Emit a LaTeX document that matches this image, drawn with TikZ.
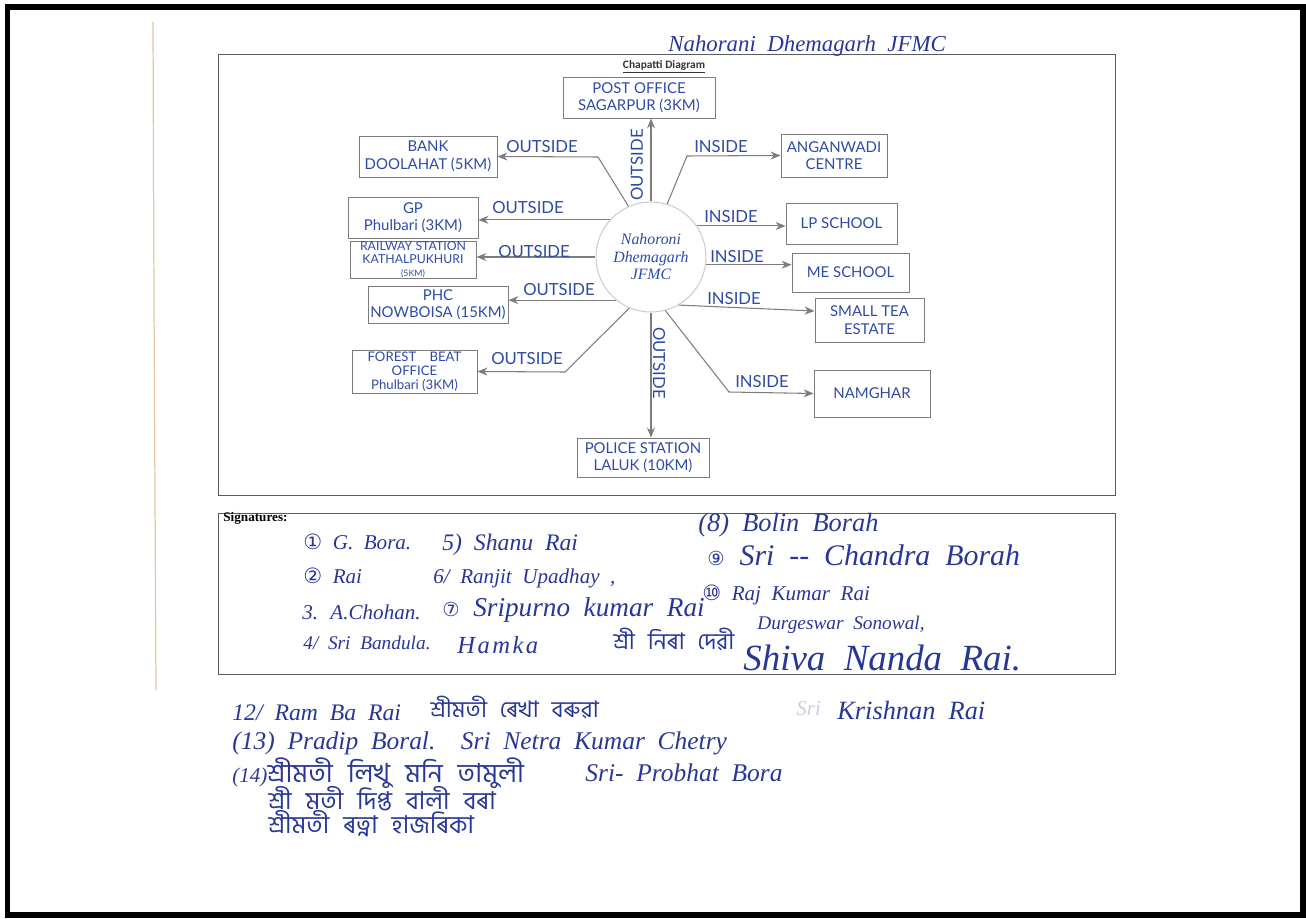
\documentclass[tikz,border=0pt]{standalone}
\usepackage{fontspec}
\setmainfont{Liberation Serif}
\newfontfamily\printfont{Lato}
\newfontfamily\handfont[WordSpace=2]{Liberation Serif}
\newfontfamily\widehand[LetterSpace=10]{Liberation Serif}
\newfontfamily\bnfont[Script=Bengali,WordSpace=2.5]{Hind Siliguri}
\newfontfamily\symfont{DejaVu Sans}
\newfontfamily\calfont{Carlito}
\usetikzlibrary{arrows.meta}

\definecolor{inkP}{RGB}{45,75,165}
\definecolor{inkS}{RGB}{40,55,150}
\definecolor{lineG}{RGB}{125,125,125}
\definecolor{boxG}{RGB}{125,125,125}
\definecolor{frameG}{RGB}{90,90,90}
\definecolor{hubG}{RGB}{205,205,205}
\definecolor{scan}{RGB}{226,200,160}

% handwriting sizes
\newcommand\handsz[1]{\handfont\itshape\fontsize{#1}{#1}\selectfont}
\newcommand\bnsz[1]{\bnfont\fontsize{#1}{#1}\selectfont}

\tikzset{
  place/.style={draw=boxG, line width=0.5pt, inner sep=0pt, align=center, text=inkP,
    font=\printfont\fontsize{8.5}{10}\selectfont},
  side/.style={text=inkP, inner sep=0pt, font=\printfont\fontsize{9.5}{9.5}\selectfont},
  link/.style={draw=lineG, line width=0.6pt, -{Stealth[length=0.2cm,width=0.16cm]}},
  sign/.style={anchor=west, inner sep=0pt, text=inkS, font=\handsz{12}},
  bsign/.style={anchor=west, inner sep=0pt, text=inkS, font=\bnsz{14}},
}

\begin{document}
\begin{tikzpicture}[x=0.02cm,y=-0.02cm]
\useasboundingbox (0,0) rectangle (1306,919);
\draw[line width=0.12cm] (7.5,7) rectangle (1303,915);
\draw[scan, line width=0.7pt] (153,22) -- (154,300) -- (156,690);

% frames
\draw[frameG, line width=0.5pt] (218,54) rectangle (1115,495);
\draw[frameG, line width=0.5pt] (218,513) rectangle (1115,674);

\node[anchor=west, inner sep=0pt, text=inkS, font=\handsz{13}] (title) at (668,46) {Nahorani Dhemagarh JFMC};
\node[inner sep=0pt, text=black!80, font=\calfont\bfseries\fontsize{6.5}{7}\selectfont] (caption) at (664,67) {\underline{Chapatti Diagram}};

% hub
\node[circle, draw=hubG, line width=0.6pt, minimum size=2.2cm, align=center, text=inkP,
  font=\handfont\itshape\fontsize{9}{10}\selectfont] (hub) at (651,257) {Nahoroni\\Dhemagarh\\JFMC};

% outside places
\node[place, minimum width=3.04cm, minimum height=0.82cm] (post) at (639,97.5) {POST OFFICE\\SAGARPUR (3KM)};
\node[place, minimum width=2.76cm, minimum height=0.82cm] (bank) at (428,156.5) {BANK\\DOOLAHAT (5KM)};
\node[place, minimum width=2.6cm, minimum height=0.82cm] (gp) at (413,217.5) {GP\\Phulbari (3KM)};
\node[place, minimum width=2.52cm, minimum height=0.72cm, font=\printfont\fontsize{7}{7.5}\selectfont] (rail) at (413,260)
  {RAILWAY STATION\\KATHALPUKHURI\\{\fontsize{5}{5}\selectfont(5KM)}};
\node[place, minimum width=2.8cm, minimum height=0.74cm] (phc) at (438,304.5) {PHC\\NOWBOISA (15KM)};
\node[place, minimum width=2.5cm, minimum height=0.86cm, font=\printfont\fontsize{7.5}{8}\selectfont] (forest) at (414.5,371.5)
  {FOREST\quad BEAT\\OFFICE\\Phulbari (3KM)};
\node[place, minimum width=2.64cm, minimum height=0.78cm] (police) at (643,457.5) {POLICE STATION\\LALUK (10KM)};

% inside places
\node[place, minimum width=2.12cm, minimum height=0.86cm] (angan) at (834,155.5) {ANGANWADI\\CENTRE};
\node[place, minimum width=2.22cm, minimum height=0.82cm] (lp) at (841.5,223.5) {LP SCHOOL};
\node[place, minimum width=2.34cm, minimum height=0.78cm] (me) at (850.5,272.5) {ME SCHOOL};
\node[place, minimum width=2.18cm, minimum height=0.88cm] (tea) at (869.5,320) {SMALL TEA\\ESTATE};
\node[place, minimum width=2.32cm, minimum height=0.94cm] (nam) at (872,393.5) {NAMGHAR};

% links
\draw[link] (hub.north) -- (hub.north |- post.south);
\draw[link] (hub.114) -- (598,157) -- (bank.east);
\draw[link] (hub.138) -- (gp.east |- hub.138);
\draw[link] (hub.180) -- (rail.east |- hub.180);
\draw[link] (hub.231) -- (phc.east |- hub.231);
\draw[link] (hub.247) -- (565,372) -- (forest.east);
\draw[link] (hub.south) -- (hub.south |- police.north);
\draw[link] (hub.73) -- (687,156) -- (angan.west);
\draw[link] (hub.34) -- (lp.west |- hub.34);
\draw[link] (hub.-8) -- (me.west |- hub.-8);
\draw[link] (hub.-60) -- ([yshift=0.18cm]tea.west);
\draw[link] (hub.-75) -- (729,392) -- (nam.west);

% link labels
\node[side, rotate=90] (lpost) at (637,165) {OUTSIDE};
\node[side] (lbank) at (542,147) {OUTSIDE};
\node[side] (lgp) at (528,208) {OUTSIDE};
\node[side] (lrail) at (534,252) {OUTSIDE};
\node[side] (lphc) at (559,290) {OUTSIDE};
\node[side] (lforest) at (527,359) {OUTSIDE};
\node[side, rotate=-90] (lpolice) at (659,363) {OUTSIDE};
\node[side] (langan) at (721,147) {INSIDE};
\node[side] (llp) at (731,217) {INSIDE};
\node[side] (lme) at (737,257) {INSIDE};
\node[side] (ltea) at (734,299) {INSIDE};
\node[side] (lnam) at (762,382) {INSIDE};

% signatures
\node[anchor=west, inner sep=0pt, font=\bfseries\fontsize{7.5}{7.5}\selectfont] (sighead) at (223,518) {Signatures:};
\node[sign] (s1) at (303,542) {{\symfont ①} G. Bora.};
\node[sign, font=\handsz{13.5}] (s5) at (442,545) {5) Shanu Rai};
\node[sign, font=\handsz{15}] (s8) at (698,525) {(8) Bolin Borah};
\node[sign] (s2) at (303,576) {{\symfont ②} Rai};
\node[sign] (s6) at (433,578) {6/ Ranjit Upadhay ,};
\node[sign, font=\handsz{17}] (s9) at (707,555) {{\symfont\fontsize{11}{11}\selectfont ⑨} Sri -- Chandra Borah};
\node[sign] (s3) at (302,612) {3. A.Chohan.};
\node[sign, font=\handsz{15.5}] (s7) at (442,610) {{\symfont\fontsize{11}{11}\selectfont ⑦} Sripurno kumar Rai};
\node[sign] (s10) at (702,595) {{\symfont ⑩} Raj Kumar Rai};
\node[sign, font=\handsz{11}] (sdurg) at (757,625) {Durgeswar Sonowal,};
\node[sign, font=\handsz{11}] (s4) at (303,643) {4/ Sri Bandula.};
\node[sign, font=\widehand\itshape\fontsize{14}{14}\selectfont] (sham) at (457,645) {Hamka};
\node[bsign, font=\bnsz{13}] (snira) at (613,640) {শ্ৰী নিৰা দেৱী};
\node[sign, anchor=base west, font=\handsz{21}] (sshiva) at (743,670) {Shiva Nanda Rai.};

% below the box
\node[sign, font=\handsz{13.5}] (s12) at (232,713) {12/ Ram Ba Rai};
\node[bsign, font=\bnsz{13}] (s12b) at (430,708) {শ্ৰীমতী ৰেখা বৰুৱা};
\node[sign, text=inkS!25] (skri) at (796,709) {Sri};
\node[sign, font=\handsz{15}] (skrb) at (837,710) {Krishnan Rai};
\node[sign, font=\handsz{14.5}] (s13) at (232,743) {(13) Pradip Boral.\ \ Sri Netra Kumar Chetry};
\node[bsign, font=\bnsz{15}] (s14) at (232,773) {{\handsz{12}(14)}শ্ৰীমতী লিখু মনি তামুলী};
\node[sign, font=\handsz{14.5}] (s14b) at (585,773) {Sri- Probhat Bora};
\node[bsign] (s15) at (268,799) {শ্ৰী মতী দিপ্ত বালী বৰা};
\node[bsign] (s16) at (268,824) {শ্ৰীমতী ৰত্না হাজৰিকা};
\end{tikzpicture}
\end{document}
